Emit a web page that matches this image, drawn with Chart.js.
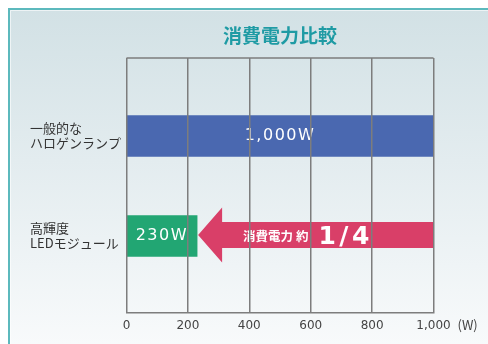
<!DOCTYPE html>
<html lang="ja">
<head>
<meta charset="utf-8">
<title>消費電力比較</title>
<script src="https://cdn.jsdelivr.net/npm/chart.js@4/dist/chart.umd.min.js"></script>
<style>
  html, body { margin: 0; padding: 0; background: #ffffff; }
  #wrap { width: 488px; height: 344px; position: relative; }
</style>
</head>
<body>
<div id="wrap"><canvas id="c" width="488" height="344"></canvas></div>
<script>
// Lamp types compared (multi-line labels)
const categories = [['一般的な', 'ハロゲンランプ'], ['高輝度', 'LEDモジュール']];
// Power consumption in watts
const watts = [1000, 230];
const barLabels = ['1,000W', '230W'];
const barColors = ['#4a68b0', '#22a673'];
// Horizontal axis ticks
const xTicks = [0, 200, 400, 600, 800, 1000];
const xTickLabels = ['0', '200', '400', '600', '800', '1,000'];
const unitLabel = '(W)';
const chartTitle = '消費電力比較';
const arrowText = '消費電力 約';
const arrowRatio = '1/4';

const JP = '"Noto Sans CJK JP", "Noto Sans", sans-serif';
const NUM = '"DejaVu Sans", "Noto Sans CJK JP", sans-serif';

const decorPlugin = {
  id: 'decor',
  beforeDraw(chart) {
    const ctx = chart.ctx;
    const W = chart.width, H = chart.height;
    ctx.save();
    ctx.fillStyle = '#ffffff';
    ctx.fillRect(0, 0, W, H);
    const g = ctx.createLinearGradient(0, 10, 0, H);
    g.addColorStop(0, '#d2e1e5');
    g.addColorStop(0.45, '#e3ecef');
    g.addColorStop(1, '#f8fafb');
    ctx.fillStyle = g;
    ctx.fillRect(9, 9, W - 9, H - 9);
    // frame edge
    ctx.strokeStyle = '#5cb9bd';
    ctx.lineWidth = 2;
    ctx.beginPath();
    ctx.moveTo(9, H);
    ctx.lineTo(9, 9);
    ctx.lineTo(W, 9);
    ctx.stroke();
    ctx.strokeStyle = 'rgba(255,255,255,0.6)';
    ctx.lineWidth = 1;
    ctx.beginPath();
    ctx.moveTo(10.5, H);
    ctx.lineTo(10.5, 10.5);
    ctx.lineTo(W, 10.5);
    ctx.stroke();
    // title centred over the plot area
    const a = chart.chartArea;
    ctx.fillStyle = '#1f9ba4';
    ctx.font = 'bold 19px ' + JP;
    ctx.textAlign = 'center';
    ctx.textBaseline = 'middle';
    ctx.fillText(chartTitle, (a.left + a.right) / 2, 36);
    ctx.restore();
  },
  afterDatasetsDraw(chart) {
    const ctx = chart.ctx;
    const xs = chart.scales.x, ys = chart.scales.y;
    ctx.save();
    // value labels inside bars
    ctx.fillStyle = '#ffffff';
    ctx.textAlign = 'center';
    ctx.textBaseline = 'middle';
    ctx.font = '16px ' + NUM;
    ctx.letterSpacing = '1.5px';
    watts.forEach((v, i) => {
      const cx = (xs.getPixelForValue(0) + xs.getPixelForValue(v)) / 2;
      ctx.fillText(barLabels[i], cx, ys.getPixelForValue(i));
    });
    ctx.letterSpacing = '0px';
    // arrow from the larger value back to the smaller one
    const tipX = xs.getPixelForValue(watts[1]);
    const tailX = xs.getPixelForValue(watts[0]);
    const cy = ys.getPixelForValue(1) - 1;
    const headLen = 24, headHalf = 27.5, shaftHalf = 13;
    ctx.fillStyle = '#d93f68';
    ctx.beginPath();
    ctx.moveTo(tipX + 1, cy);
    ctx.lineTo(tipX + 1 + headLen, cy - headHalf);
    ctx.lineTo(tipX + 1 + headLen, cy - shaftHalf);
    ctx.lineTo(tailX, cy - shaftHalf);
    ctx.lineTo(tailX, cy + shaftHalf);
    ctx.lineTo(tipX + 1 + headLen, cy + shaftHalf);
    ctx.lineTo(tipX + 1 + headLen, cy + headHalf);
    ctx.closePath();
    ctx.fill();
    ctx.fillStyle = '#ffffff';
    ctx.textAlign = 'left';
    ctx.textBaseline = 'alphabetic';
    ctx.font = 'bold 12.5px ' + JP;
    const tx = tipX + headLen + 22;
    ctx.fillText(arrowText, tx, cy + 6);
    const w1 = ctx.measureText(arrowText).width;
    ctx.font = 'bold 25px "DejaVu Sans", sans-serif';
    ctx.letterSpacing = '3.5px';
    ctx.fillText(arrowRatio, tx + w1 + 10, cy + 9);
    ctx.letterSpacing = '0px';
    ctx.restore();
  },
  afterDraw(chart) {
    const ctx = chart.ctx;
    const a = chart.chartArea;
    ctx.save();
    ctx.strokeStyle = '#7d7d7d';
    ctx.lineWidth = 1.5;
    ctx.beginPath();
    ctx.moveTo(a.left, a.top);
    ctx.lineTo(a.right, a.top);
    ctx.stroke();
    // unit next to the last tick label
    ctx.fillStyle = '#444444';
    ctx.font = '13px ' + JP;
    ctx.textAlign = 'left';
    ctx.textBaseline = 'middle';
    ctx.fillText(unitLabel, a.right + 24, 325);
    ctx.restore();
  }
};

new Chart(document.getElementById('c'), {
  type: 'bar',
  data: {
    datasets: [{
      data: watts.map((v, i) => ({ x: v, y: i })),
      backgroundColor: barColors,
      borderWidth: 0,
      barThickness: 41
    }]
  },
  options: {
    indexAxis: 'y',
    responsive: false,
    animation: false,
    events: [],
    layout: { padding: { left: 30, right: 54.5, top: 58, bottom: 0 } },
    plugins: { legend: { display: false }, tooltip: { enabled: false }, title: { display: false } },
    scales: {
      x: {
        type: 'linear',
        min: 0,
        max: 1000,
        afterBuildTicks: (s) => { s.ticks = xTicks.map(v => ({ value: v })); },
        afterFit: (s) => { s.height = 31; },
        grid: { color: '#7d7d7d', lineWidth: 1.5, drawTicks: false, z: 1 },
        border: { display: true, color: '#7d7d7d', width: 1.5, z: 1 },
        ticks: {
          padding: 6,
          color: '#444444',
          font: { family: NUM, size: 12 },
          maxRotation: 0,
          callback: (v) => xTickLabels[xTicks.indexOf(v)]
        }
      },
      y: {
        type: 'linear',
        reverse: true,
        offset: false,
        bounds: 'data',
        min: -0.78,
        max: 1.77,
        afterBuildTicks: (s) => { s.ticks = categories.map((c, i) => ({ value: i })); },
        afterFit: (s) => { s.width = 96.5; },
        grid: { display: false, offset: false },
        border: { display: false },
        ticks: {
          crossAlign: 'far',
          color: '#333333',
          font: { family: JP, size: 13, lineHeight: 1.15 },
          callback: (v) => categories[v]
        }
      }
    }
  },
  plugins: [decorPlugin]
});
</script>
</body>
</html>
